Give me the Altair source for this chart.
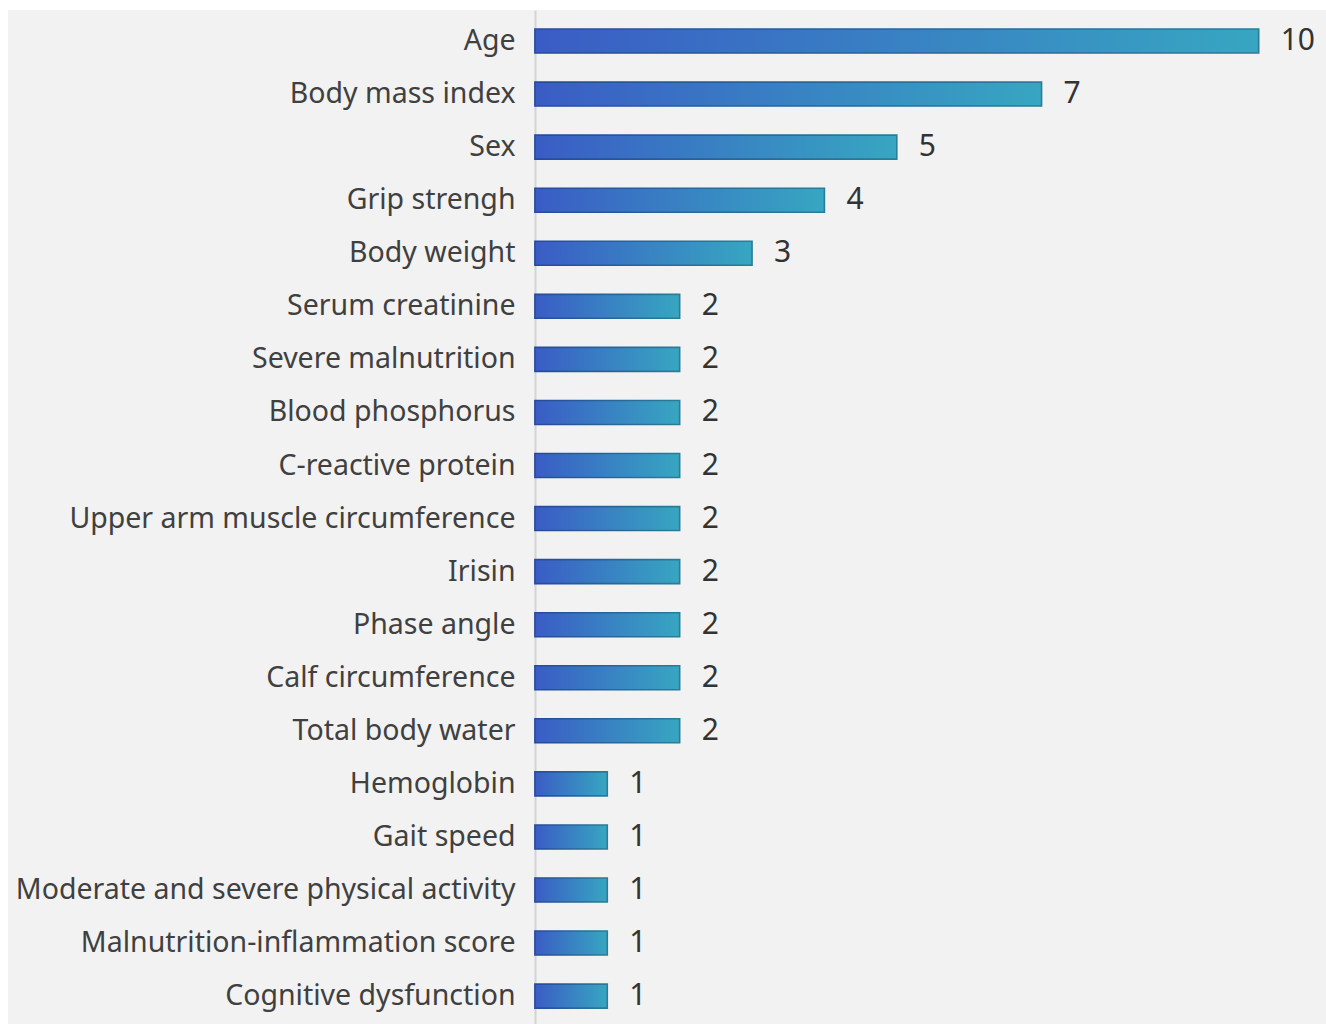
import altair as alt
import pandas as pd

factors = [
    "Age", "Body mass index", "Sex", "Grip strengh", "Body weight",
    "Serum creatinine", "Severe malnutrition", "Blood phosphorus",
    "C-reactive protein", "Upper arm muscle circumference", "Irisin",
    "Phase angle", "Calf circumference", "Total body water", "Hemoglobin",
    "Gait speed", "Moderate and severe physical activity",
    "Malnutrition-inflammation score", "Cognitive dysfunction",
]
counts = [10, 7, 5, 4, 3, 2, 2, 2, 2, 2, 2, 2, 2, 2, 1, 1, 1, 1, 1]

df = pd.DataFrame({"factor": factors, "count": counts})

FONT = "Noto Sans"

fill_grad = alt.Gradient(
    gradient="linear", x1=0, x2=1, y1=0, y2=0,
    stops=[alt.GradientStop(color="#3a5cc5", offset=0),
           alt.GradientStop(color="#37a6c1", offset=1)],
)
stroke_grad = alt.Gradient(
    gradient="linear", x1=0, x2=1, y1=0, y2=0,
    stops=[alt.GradientStop(color="#274a9c", offset=0),
           alt.GradientStop(color="#2a7d96", offset=1)],
)

xscale = alt.Scale(domain=[-7.28, 10.93], nice=False, zero=False)
y_enc = alt.Y(
    "factor:N", sort=factors,
    scale=alt.Scale(paddingInner=0.548, paddingOuter=0.329, align=0.545),
    axis=alt.Axis(
        title=None, orient="left", offset=-527, ticks=False,
        domainColor="#d4d4d4", domainWidth=2,
        labelFont=FONT, labelFontSize=28.5, labelColor="#404040",
        labelPadding=20, labelLimit=600,
    ),
)

bars = alt.Chart(df).mark_bar(
    color=fill_grad, stroke=stroke_grad, strokeWidth=1.6, cornerRadius=0
).encode(x=alt.X("count:Q", scale=xscale, axis=None),
         x2=alt.datum(0), y=y_enc)

labels = alt.Chart(df).mark_text(
    align="left", baseline="middle", dx=22, font=FONT, fontSize=30, color="#333333"
).encode(x=alt.X("count:Q", scale=xscale, axis=None),
         y=alt.Y("factor:N", sort=factors), text="count:Q")

chart = alt.layer(bars, labels).properties(
    width=1318, height=1014,
    autosize=alt.AutoSizeParams(type="none"),
    padding={"left": 8, "top": 10, "right": 0, "bottom": 0},
    background="white",
).configure_view(fill="#f2f2f2", stroke=None)

chart.save("out.html", embed_options={"renderer": "svg", "actions": False})
